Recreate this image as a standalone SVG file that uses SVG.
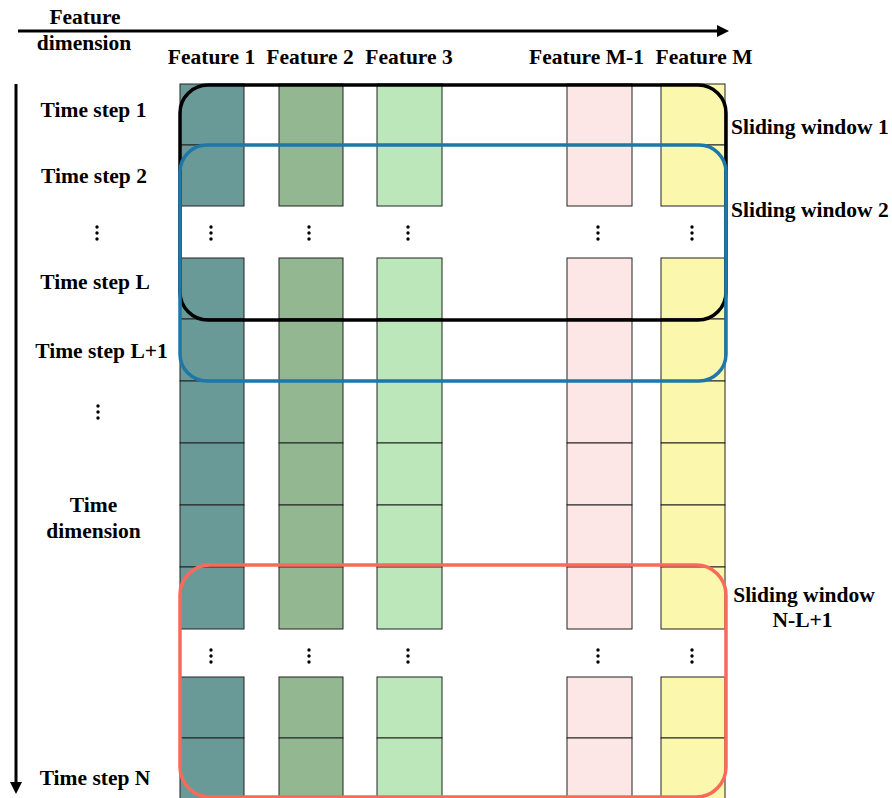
<svg xmlns="http://www.w3.org/2000/svg" width="892" height="798" viewBox="0 0 892 798">
<style>
text{font-family:"Liberation Serif","Times New Roman",serif;font-weight:bold;font-size:21.5px;fill:#000}
.m{text-anchor:middle}
.c1{fill:#6a9a98;stroke:#222;stroke-width:1}
.c2{fill:#93b891;stroke:#222;stroke-width:1}
.c3{fill:#bbe7ba;stroke:#222;stroke-width:1}
.c4{fill:#fde7e6;stroke:#222;stroke-width:1}
.c5{fill:#fbf8ae;stroke:#222;stroke-width:1}
.win{fill:none;stroke-width:3.5}
.ax{stroke:#000;stroke-width:3;fill:none}
</style>
<defs>
<marker id="ah" viewBox="0 0 10 10" refX="0" refY="5" markerWidth="4.5" markerHeight="4" orient="auto" markerUnits="strokeWidth">
<path d="M0,0 L10,5 L0,10 z" fill="#000"/>
</marker>
<g id="dots"><circle cx="0" cy="-6" r="1.7" fill="#000"/><circle cx="0" cy="0" r="1.7" fill="#000"/><circle cx="0" cy="6" r="1.7" fill="#000"/></g>
</defs>
<rect width="892" height="798" fill="#fff"/>

<g id="axes">
<line class="ax" x1="18" y1="31" x2="717" y2="31" marker-end="url(#ah)"/>
<line class="ax" x1="16" y1="84" x2="16" y2="782" marker-end="url(#ah)"/>
</g>

<g id="axis-labels">
<text class="m" x="85" y="24">Feature</text>
<text class="m" x="84" y="50">dimension</text>
<text class="m" x="93.5" y="512">Time</text>
<text class="m" x="93.5" y="538">dimension</text>
</g>

<g id="feature-labels">
<text class="m" x="211.5" y="64">Feature 1</text>
<text class="m" x="310" y="64">Feature 2</text>
<text class="m" x="409" y="64">Feature 3</text>
<text class="m" x="586.5" y="64">Feature M-1</text>
<text class="m" x="704" y="64">Feature M</text>
</g>

<g id="time-labels">
<text class="m" x="93.5" y="117">Time step 1</text>
<text class="m" x="94" y="183">Time step 2</text>
<text class="m" x="95" y="289">Time step L</text>
<text class="m" x="101.5" y="358">Time step L+1</text>
<text class="m" x="95" y="785">Time step N</text>
<use href="#dots" x="97" y="233"/>
<use href="#dots" x="98" y="412"/>
</g>

<g id="feature1">
<rect class="c1" x="180" y="84" width="64" height="61"/>
<rect class="c1" x="180" y="145" width="64" height="61"/>
<rect class="c1" x="180" y="258" width="64" height="61"/>
<rect class="c1" x="180" y="319" width="64" height="62"/>
<rect class="c1" x="180" y="381" width="64" height="62"/>
<rect class="c1" x="180" y="443" width="64" height="62"/>
<rect class="c1" x="180" y="505" width="64" height="62"/>
<rect class="c1" x="180" y="567" width="64" height="62"/>
<rect class="c1" x="180" y="677" width="64" height="61"/>
<rect class="c1" x="180" y="738" width="64" height="62"/>
<use href="#dots" x="211" y="233"/>
<use href="#dots" x="211" y="656"/>
</g>

<g id="feature2">
<rect class="c2" x="279" y="84" width="64" height="61"/>
<rect class="c2" x="279" y="145" width="64" height="61"/>
<rect class="c2" x="279" y="258" width="64" height="61"/>
<rect class="c2" x="279" y="319" width="64" height="62"/>
<rect class="c2" x="279" y="381" width="64" height="62"/>
<rect class="c2" x="279" y="443" width="64" height="62"/>
<rect class="c2" x="279" y="505" width="64" height="62"/>
<rect class="c2" x="279" y="567" width="64" height="62"/>
<rect class="c2" x="279" y="677" width="64" height="61"/>
<rect class="c2" x="279" y="738" width="64" height="62"/>
<use href="#dots" x="309" y="233"/>
<use href="#dots" x="309" y="656"/>
</g>

<g id="feature3">
<rect class="c3" x="377" y="84" width="65" height="61"/>
<rect class="c3" x="377" y="145" width="65" height="61"/>
<rect class="c3" x="377" y="258" width="65" height="61"/>
<rect class="c3" x="377" y="319" width="65" height="62"/>
<rect class="c3" x="377" y="381" width="65" height="62"/>
<rect class="c3" x="377" y="443" width="65" height="62"/>
<rect class="c3" x="377" y="505" width="65" height="62"/>
<rect class="c3" x="377" y="567" width="65" height="62"/>
<rect class="c3" x="377" y="677" width="65" height="61"/>
<rect class="c3" x="377" y="738" width="65" height="62"/>
<use href="#dots" x="408" y="233"/>
<use href="#dots" x="408" y="656"/>
</g>

<g id="featureM-1">
<rect class="c4" x="567" y="84" width="65" height="61"/>
<rect class="c4" x="567" y="145" width="65" height="61"/>
<rect class="c4" x="567" y="258" width="65" height="61"/>
<rect class="c4" x="567" y="319" width="65" height="62"/>
<rect class="c4" x="567" y="381" width="65" height="62"/>
<rect class="c4" x="567" y="443" width="65" height="62"/>
<rect class="c4" x="567" y="505" width="65" height="62"/>
<rect class="c4" x="567" y="567" width="65" height="62"/>
<rect class="c4" x="567" y="677" width="65" height="61"/>
<rect class="c4" x="567" y="738" width="65" height="62"/>
<use href="#dots" x="598" y="233"/>
<use href="#dots" x="598" y="656"/>
</g>

<g id="featureM">
<rect class="c5" x="661" y="84" width="64" height="61"/>
<rect class="c5" x="661" y="145" width="64" height="61"/>
<rect class="c5" x="661" y="258" width="64" height="61"/>
<rect class="c5" x="661" y="319" width="64" height="62"/>
<rect class="c5" x="661" y="381" width="64" height="62"/>
<rect class="c5" x="661" y="443" width="64" height="62"/>
<rect class="c5" x="661" y="505" width="64" height="62"/>
<rect class="c5" x="661" y="567" width="64" height="62"/>
<rect class="c5" x="661" y="677" width="64" height="61"/>
<rect class="c5" x="661" y="738" width="64" height="62"/>
<use href="#dots" x="692" y="233"/>
<use href="#dots" x="692" y="656"/>
</g>

<g id="window1">
<rect class="win" x="180" y="85" width="546" height="235" rx="28" ry="28" stroke="#000"/>
<text x="731" y="134">Sliding window 1</text>
</g>
<g id="window2">
<rect class="win" x="180" y="145" width="546" height="236" rx="27" ry="27" stroke="#1d77a8"/>
<text x="731" y="217">Sliding window 2</text>
</g>
<g id="windowN">
<rect class="win" x="180" y="565" width="546" height="232" rx="30" ry="30" stroke="#f86a5c"/>
<text class="m" x="804" y="602">Sliding window</text>
<text class="m" x="802.5" y="627">N-L+1</text>
</g>
</svg>
